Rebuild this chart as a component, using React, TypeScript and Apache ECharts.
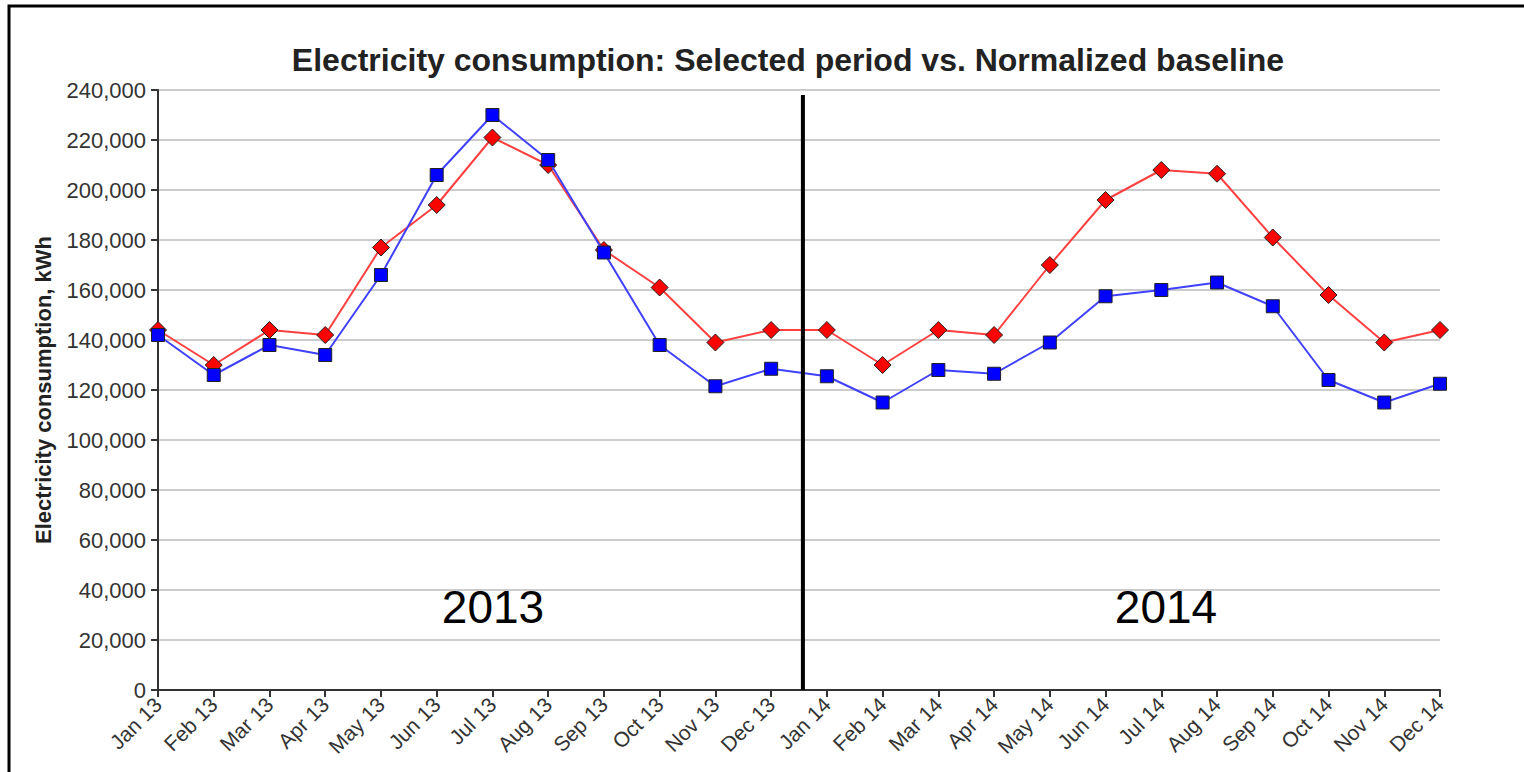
import React, { useEffect, useRef } from "react";
import * as echarts from "echarts";

const categories = [
  "Jan 13", "Feb 13", "Mar 13", "Apr 13", "May 13", "Jun 13",
  "Jul 13", "Aug 13", "Sep 13", "Oct 13", "Nov 13", "Dec 13",
  "Jan 14", "Feb 14", "Mar 14", "Apr 14", "May 14", "Jun 14",
  "Jul 14", "Aug 14", "Sep 14", "Oct 14", "Nov 14", "Dec 14",
];

const baseline = [
  144000, 130000, 144000, 142000, 177000, 194000,
  221000, 210000, 176000, 161000, 139000, 144000,
  144000, 130000, 144000, 142000, 170000, 196000,
  208000, 206500, 181000, 158000, 139000, 144000,
];

const selected = [
  142000, 126000, 138000, 134000, 166000, 206000,
  230000, 212000, 175000, 138000, 121500, 128500,
  125500, 115000, 128000, 126500, 139000, 157500,
  160000, 163000, 153500, 124000, 115000, 122500,
];

const yearLabels = ["2013", "2014"];
const dividerIndex = 11.57;

const FONT = "'Liberation Sans', Arial, sans-serif";

export default function App() {
  const ref = useRef<HTMLDivElement>(null);

  useEffect(() => {
    if (!ref.current) return;
    const chart = echarts.init(ref.current, null, { renderer: "svg" });
    chart.setOption({
      animation: false,
      backgroundColor: "#ffffff",
      title: {
        text: "Electricity consumption: Selected period vs. Normalized baseline",
        left: 783,
        textAlign: "center",
        top: 39,
        textStyle: { fontFamily: FONT, fontSize: 32, fontWeight: "bold", color: "#222" },
      },
      grid: { left: 158, right: 84, top: 90, bottom: 82, containLabel: false },
      xAxis: {
        type: "category",
        data: categories,
        boundaryGap: false,
        axisLine: { lineStyle: { color: "#333", width: 2 } },
        axisTick: { show: true, length: 7, lineStyle: { color: "#333", width: 2 } },
        axisLabel: {
          rotate: 45,
          interval: 0,
          fontFamily: FONT,
          fontSize: 21,
          color: "#333",
          margin: 11,
        },
        splitLine: { show: false },
      },
      yAxis: {
        type: "value",
        min: 0,
        max: 240000,
        interval: 20000,
        name: "Electricity consumption, kWh",
        nameLocation: "middle",
        nameGap: 104,
        nameTextStyle: { fontFamily: FONT, fontSize: 22, fontWeight: "bold", color: "#222" },
        axisLine: { show: true, lineStyle: { color: "#333", width: 2 } },
        axisTick: { show: true, length: 7, lineStyle: { color: "#333", width: 2 } },
        axisLabel: {
          fontFamily: FONT,
          fontSize: 22,
          color: "#333",
          margin: 12,
          formatter: (v: number) => v.toLocaleString("en-US"),
        },
        splitLine: { show: true, lineStyle: { color: "#cccccc", width: 2 } },
      },
      series: [
        {
          name: "Normalized baseline",
          type: "line",
          data: baseline,
          symbol: "diamond",
          symbolSize: 17,
          lineStyle: { color: "#ff4040", width: 2 },
          itemStyle: { color: "#ff0000", borderColor: "#222", borderWidth: 1 },
          z: 2,
        },
        {
          name: "Selected period",
          type: "line",
          data: selected,
          symbol: "rect",
          symbolSize: 13,
          lineStyle: { color: "#4040ff", width: 2 },
          itemStyle: { color: "#0000ff", borderColor: "#222", borderWidth: 1 },
          z: 3,
        },
      ],
    });

    const lo = Math.floor(dividerIndex);
    const p0 = chart.convertToPixel({ gridIndex: 0 }, [lo, 0]) as number[];
    const p1 = chart.convertToPixel({ gridIndex: 0 }, [lo + 1, 0]) as number[];
    const xDiv = p0[0] + (p1[0] - p0[0]) * (dividerIndex - lo);
    const yBottom = p0[1];
    const yTop = (chart.convertToPixel({ gridIndex: 0 }, [lo, 238000]) as number[])[1];

    chart.setOption({
      graphic: [
        {
          type: "rect",
          shape: { x: 9, y: 6, width: 1700, height: 900 },
          style: { fill: "none", stroke: "#000", lineWidth: 3 },
          silent: true,
          z: 100,
        },
        {
          type: "line",
          shape: { x1: xDiv, y1: yTop, x2: xDiv, y2: yBottom },
          style: { stroke: "#000", lineWidth: 4 },
          z: 100,
        },
        {
          type: "text",
          x: 493,
          y: 607,
          style: {
            text: yearLabels[0],
            fontFamily: FONT,
            fontSize: 46,
            fill: "#000",
            textAlign: "center",
            textVerticalAlign: "middle",
          },
          z: 100,
        },
        {
          type: "text",
          x: 1166,
          y: 607,
          style: {
            text: yearLabels[1],
            fontFamily: FONT,
            fontSize: 46,
            fill: "#000",
            textAlign: "center",
            textVerticalAlign: "middle",
          },
          z: 100,
        },
      ],
    });

    return () => chart.dispose();
  }, []);

  return (
    <div
      ref={ref}
      style={{ position: "fixed", left: 0, top: 0, width: 1524, height: 772 }}
    />
  );
}
